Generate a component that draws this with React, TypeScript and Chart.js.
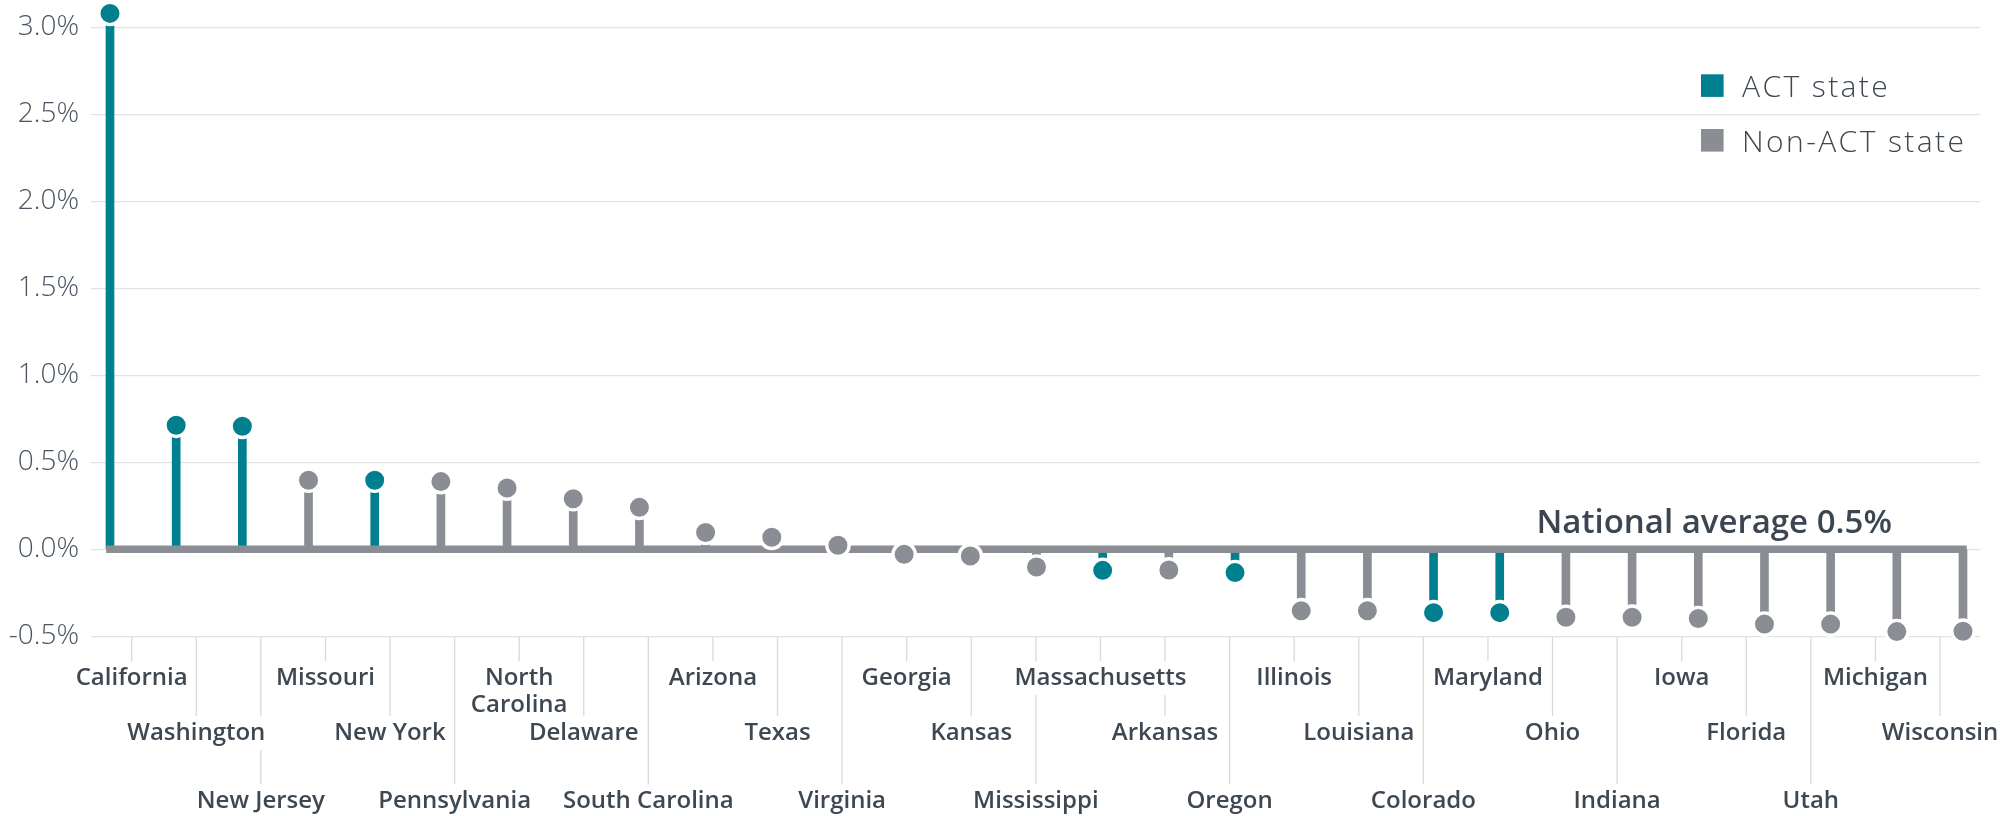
import { useEffect, useRef } from 'react';
import { Chart, registerables } from 'chart.js';

Chart.register(...registerables);

// ---------- data ----------
const states: string[] = [
  'California', 'Washington', 'New Jersey', 'Missouri', 'New York', 'Pennsylvania',
  'North Carolina', 'Delaware', 'South Carolina', 'Arizona', 'Texas', 'Virginia',
  'Georgia', 'Kansas', 'Mississippi', 'Massachusetts', 'Arkansas', 'Oregon',
  'Illinois', 'Louisiana', 'Colorado', 'Maryland', 'Ohio', 'Indiana',
  'Iowa', 'Florida', 'Utah', 'Michigan', 'Wisconsin',
];

const changeVsNational: number[] = [
  3.08, 0.713, 0.707, 0.397, 0.397, 0.389,
  0.352, 0.291, 0.241, 0.097, 0.069, 0.023,
  -0.029, -0.038, -0.102, -0.121, -0.119, -0.134,
  -0.353, -0.353, -0.364, -0.364, -0.391, -0.390,
  -0.398, -0.430, -0.430, -0.473, -0.471,
];

const actStates: string[] = [
  'California', 'Washington', 'New Jersey', 'New York',
  'Massachusetts', 'Oregon', 'Colorado', 'Maryland',
];

const yTickValues: number[] = [-0.5, 0, 0.5, 1, 1.5, 2, 2.5, 3];
const legendLabels: string[] = ['ACT state', 'Non-ACT state'];
const nationalAverageLabel = 'National average 0.5%';

// ---------- styles ----------
const TEAL = '#00808f';
const GRAY = '#8a8d93';
const TEXT = '#3d4853';
const FONT = '"Open Sans", "Noto Sans", sans-serif';
const LABEL_LINE_H = 13.7;
const LABEL_PAD = 35;
const ROW_LEAD = [0, 4, 9];

const tickLabel = (i: number): string[] => {
  const name = states[i];
  const words = name === 'North Carolina' ? ['North', '', 'Carolina'] : [name];
  return [...Array(ROW_LEAD[i % 3]).fill(''), ...words];
};

const points = states.map((_, i) => ({ x: i, y: changeVsNational[i] }));
const colors = states.map((s) => (actStates.includes(s) ? TEAL : GRAY));

const decorPlugin = {
  id: 'decor',
  beforeDraw(chart: any) {
    const { ctx, chartArea, scales } = chart;
    const xl = scales.xl;
    ctx.save();
    // connector lines from axis down to each label
    ctx.strokeStyle = '#d9d9d9';
    ctx.lineWidth = 1.3;
    states.forEach((_, i) => {
      const x = xl.getPixelForValue(i);
      const cy = xl.top + LABEL_PAD + LABEL_LINE_H / 2 + ROW_LEAD[i % 3] * LABEL_LINE_H;
      ctx.beginPath();
      ctx.moveTo(x, chartArea.bottom);
      ctx.lineTo(x, cy - 17);
      ctx.stroke();
    });
    // white knock-out behind label text
    ctx.font = `600 24px ${FONT}`;
    ctx.fillStyle = '#ffffff';
    states.forEach((_, i) => {
      const x = xl.getPixelForValue(i);
      tickLabel(i).forEach((ln, k) => {
        if (!ln) return;
        const w = ctx.measureText(ln).width;
        const cy = xl.top + LABEL_PAD + LABEL_LINE_H / 2 + k * LABEL_LINE_H;
        ctx.fillRect(x - w / 2 - 5, cy - 17, w + 10, 34);
      });
    });
    ctx.restore();
  },
  afterDraw(chart: any) {
    const { ctx, chartArea, scales } = chart;
    ctx.save();
    // legend
    const lx = chartArea.right - 279;
    const ly = chartArea.top + 47;
    const sw = 22.6;
    [TEAL, GRAY].forEach((c, k) => {
      ctx.fillStyle = c;
      ctx.fillRect(lx, ly + k * 54.7, sw, sw);
    });
    ctx.font = `300 30px ${FONT}`;
    (ctx as any).letterSpacing = '2.4px';
    ctx.fillStyle = TEXT;
    ctx.textAlign = 'left';
    ctx.textBaseline = 'alphabetic';
    legendLabels.forEach((t, k) => {
      ctx.fillText(t, lx + 41, ly + 22.4 + k * 55);
    });
    (ctx as any).letterSpacing = '0px';
    // national average label
    ctx.font = `600 33px ${FONT}`;
    ctx.fillStyle = '#3b4652';
    ctx.textAlign = 'right';
    ctx.fillText(
      nationalAverageLabel,
      scales.x.getPixelForValue(states.length - 1) - 71,
      scales.y.getPixelForValue(0) - 16,
    );
    ctx.restore();
  },
};

export default function App() {
  const ref = useRef<HTMLCanvasElement>(null);

  useEffect(() => {
    if (!ref.current) return;
    const last = states.length - 1;
    const chart = new Chart(ref.current, {
      type: 'scatter',
      data: {
        datasets: [
          {
            type: 'scatter',
            data: points,
            xAxisID: 'x',
            yAxisID: 'y',
            pointRadius: 11.2,
            pointHoverRadius: 11.2,
            pointBorderWidth: 3.4,
            pointBorderColor: '#ffffff',
            pointBackgroundColor: colors,
            clip: false as any,
            order: 1,
          } as any,
          {
            type: 'line',
            data: [
              { x: 0, y: 0 },
              { x: last, y: 0 },
            ],
            xAxisID: 'x',
            yAxisID: 'y',
            borderColor: GRAY,
            borderWidth: 7.6,
            borderCapStyle: 'square',
            pointRadius: 0,
            clip: false as any,
            order: 2,
          } as any,
          {
            type: 'bar',
            data: points,
            xAxisID: 'x',
            yAxisID: 'y',
            backgroundColor: colors,
            barThickness: 8,
            clip: false as any,
            order: 3,
          } as any,
        ],
      },
      options: {
        animation: false,
        responsive: true,
        maintainAspectRatio: false,
        events: [],
        layout: {
          autoPadding: false,
          padding: { top: 27.3, right: 20, bottom: 0, left: 0 },
        } as any,
        plugins: {
          legend: { display: false },
          tooltip: { enabled: false },
        },
        scales: {
          x: {
            type: 'linear',
            display: false,
            offset: false,
            min: -0.287,
            max: 28.257,
          },
          xl: {
            type: 'linear',
            position: 'bottom',
            offset: false,
            min: -0.63,
            max: 28.619,
            afterBuildTicks: (s: any) => {
              s.ticks = states.map((_, i) => ({ value: i }));
            },
            afterFit: (s: any) => {
              s.height = 179.7;
              s.paddingLeft = 0;
              s.paddingRight = 0;
            },
            grid: { display: false, drawTicks: false },
            border: { display: false },
            ticks: {
              autoSkip: false,
              maxRotation: 0,
              minRotation: 0,
              padding: LABEL_PAD,
              color: TEXT,
              font: { family: FONT, size: 24, weight: 600 as any, lineHeight: LABEL_LINE_H / 24 },
              callback: (v: any) => tickLabel(Number(v)) as any,
            },
          } as any,
          y: {
            type: 'linear',
            min: -0.5,
            max: 3,
            afterBuildTicks: (s: any) => {
              s.ticks = yTickValues.map((v) => ({ value: v }));
            },
            afterFit: (s: any) => {
              s.width = 91;
              s.paddingTop = 0;
              s.paddingBottom = 0;
            },
            grid: { color: '#e2e2e2', lineWidth: 1.3, drawTicks: false },
            border: { display: false },
            ticks: {
              padding: 12,
              color: '#4a5561',
              font: { family: FONT, size: 28, weight: 300 as any },
              callback: (v: any) => `${Number(v).toFixed(1)}%`,
            },
          } as any,
        },
      },
      plugins: [decorPlugin],
    });
    return () => chart.destroy();
  }, []);

  return (
    <div style={{ position: 'absolute', left: 0, top: 0, width: 2000, height: 816 }}>
      <canvas ref={ref} />
    </div>
  );
}
